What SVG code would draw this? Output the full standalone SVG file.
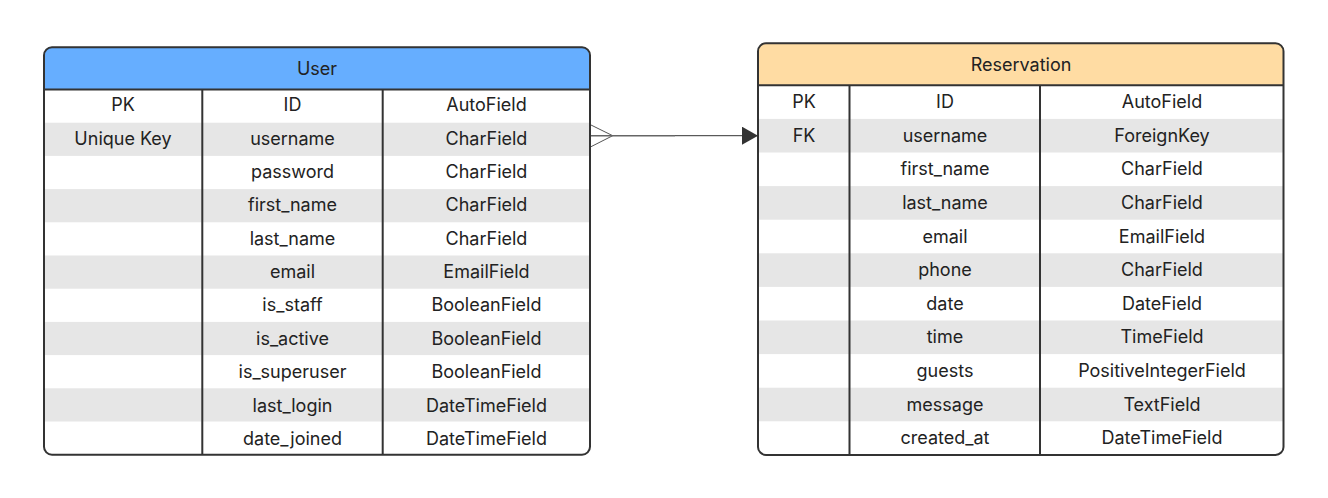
<svg xmlns="http://www.w3.org/2000/svg" width="1328" height="498" viewBox="0 0 1328 498">
<style>
text{font-family:Inter,"Noto Sans","Liberation Sans",sans-serif;font-size:18px;fill:#222;text-anchor:middle}
.shade{fill:#e6e6e6}
.frame{fill:none;stroke:#333;stroke-width:2}
.div{stroke:#333;stroke-width:2}
</style>
<defs>
<marker id="arr" markerWidth="16" markerHeight="18" refX="15" refY="9" orient="auto" markerUnits="userSpaceOnUse"><path d="M0,0 L16,9 L0,18 Z" fill="#333"/></marker>
</defs>
<rect width="1328" height="498" fill="#fff"/>
<g id="user">
<path d="M44,89.5 V55.3 Q44,47.3 52,47.3 H582 Q590,47.3 590,55.3 V89.5 Z" fill="#66aeff"/>
<rect class="shade" x="44" y="122.7" width="546" height="33.2"/>
<rect class="shade" x="44" y="189.1" width="546" height="33.2"/>
<rect class="shade" x="44" y="255.5" width="546" height="33.2"/>
<rect class="shade" x="44" y="321.9" width="546" height="33.2"/>
<rect class="shade" x="44" y="388.3" width="546" height="33.2"/>
<line class="div" x1="44" y1="89.5" x2="590" y2="89.5"/>
<line class="div" x1="202.3" y1="89.5" x2="202.3" y2="454.7"/>
<line class="div" x1="382.7" y1="89.5" x2="382.7" y2="454.7"/>
<rect class="frame" x="44" y="47.3" width="546" height="407.4" rx="8"/>
<text x="317" y="74.5">User</text>
<text x="123" y="111">PK</text><text x="292.5" y="111">ID</text><text x="486.5" y="111">AutoField</text>
<text x="123" y="144.5">Unique Key</text><text x="292.5" y="144.5">username</text><text x="486.5" y="144.5">CharField</text>
<text x="292.5" y="177.9">password</text><text x="486.5" y="177.9">CharField</text>
<text x="292.5" y="211.3">first_name</text><text x="486.5" y="211.3">CharField</text>
<text x="292.5" y="244.7">last_name</text><text x="486.5" y="244.7">CharField</text>
<text x="292.5" y="278">email</text><text x="486.5" y="278">EmailField</text>
<text x="292.5" y="311.4">is_staff</text><text x="486.5" y="311.4">BooleanField</text>
<text x="292.5" y="344.8">is_active</text><text x="486.5" y="344.8">BooleanField</text>
<text x="292.5" y="378.2">is_superuser</text><text x="486.5" y="378.2">BooleanField</text>
<text x="292.5" y="411.6">last_login</text><text x="486.5" y="411.6">DateTimeField</text>
<text x="292.5" y="445">date_joined</text><text x="486.5" y="445">DateTimeField</text>
</g>
<g id="reservation">
<path d="M758,85.3 V51.3 Q758,43.3 766,43.3 H1275.5 Q1283.5,43.3 1283.5,51.3 V85.3 Z" fill="#ffdca3"/>
<rect class="shade" x="758" y="118.9" width="525.5" height="33.6"/>
<rect class="shade" x="758" y="186.1" width="525.5" height="33.6"/>
<rect class="shade" x="758" y="253.3" width="525.5" height="33.6"/>
<rect class="shade" x="758" y="320.5" width="525.5" height="33.6"/>
<rect class="shade" x="758" y="387.7" width="525.5" height="33.6"/>
<line class="div" x1="758" y1="85.3" x2="1283.5" y2="85.3"/>
<line class="div" x1="849.5" y1="85.3" x2="849.5" y2="454.9"/>
<line class="div" x1="1040" y1="85.3" x2="1040" y2="454.9"/>
<rect class="frame" x="758" y="43.3" width="525.5" height="411.6" rx="8"/>
<text x="1021" y="70.5">Reservation</text>
<text x="804" y="108.1">PK</text><text x="945" y="108.1">ID</text><text x="1162" y="108.1">AutoField</text>
<text x="804" y="141.7">FK</text><text x="945" y="141.7">username</text><text x="1162" y="141.7">ForeignKey</text>
<text x="945" y="175.3">first_name</text><text x="1162" y="175.3">CharField</text>
<text x="945" y="208.9">last_name</text><text x="1162" y="208.9">CharField</text>
<text x="945" y="242.5">email</text><text x="1162" y="242.5">EmailField</text>
<text x="945" y="276.1">phone</text><text x="1162" y="276.1">CharField</text>
<text x="945" y="309.7">date</text><text x="1162" y="309.7">DateField</text>
<text x="945" y="343.3">time</text><text x="1162" y="343.3">TimeField</text>
<text x="945" y="376.9">guests</text><text x="1162" y="376.9">PositiveIntegerField</text>
<text x="945" y="410.5">message</text><text x="1162" y="410.5">TextField</text>
<text x="945" y="444.1">created_at</text><text x="1162" y="444.1">DateTimeField</text>
</g>
<g id="connectors" fill="none">
<path d="M591,125 L612.7,135.7 L591,146.7" stroke="#555" stroke-width="1"/>
<line x1="591" y1="135.7" x2="675" y2="135.7" stroke="#666" stroke-width="1.5"/>
<line x1="675" y1="135.7" x2="757" y2="135.7" stroke="#333" stroke-width="1" marker-end="url(#arr)"/>
</g>
</svg>
